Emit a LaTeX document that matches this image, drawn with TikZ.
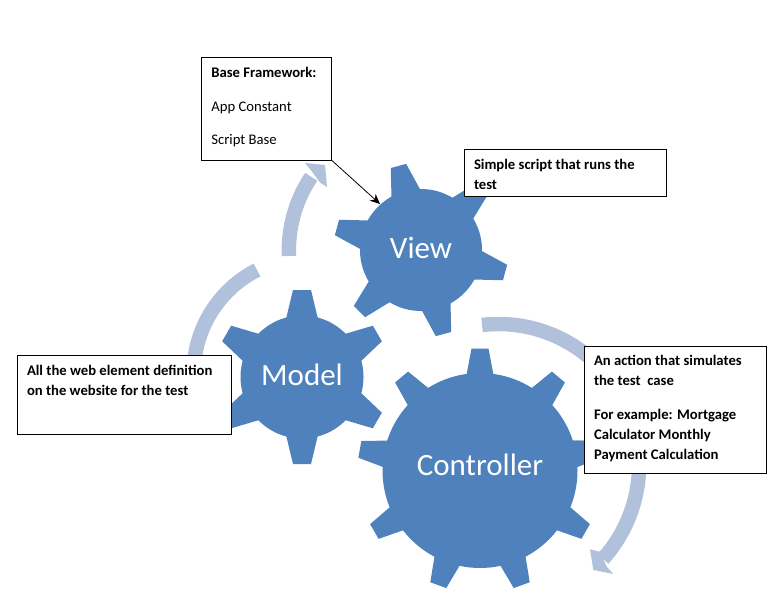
\documentclass[tikz,border=0pt]{standalone}
\usepackage{fontspec}
\usetikzlibrary{arrows.meta}
\setmainfont{Carlito}
\definecolor{gearblue}{HTML}{4F81BD}
\definecolor{arcblue}{HTML}{B2C1DB}
\begin{document}
\begin{tikzpicture}[x=1pt, y=1pt]
\tikzstyle{gear}=[circle, fill=gearblue, inner sep=0pt]
\tikzstyle{gearlabel}=[text=white, inner sep=0pt, font=\fontsize{31}{36}\selectfont]
\tikzstyle{cycle arc}=[draw=arcblue, line width=14.5pt]
\tikzstyle{textbox}=[draw=black, fill=white, line width=1pt, inner sep=0pt, outer sep=0pt, anchor=north west]
\tikzstyle{boxtext}=[inner sep=0pt, anchor=north west, align=left, font=\fontsize{14.67}{20}\selectfont]
\useasboundingbox (0,0) rectangle (775,598);

% arcs behind the gears
\draw[cycle arc] (289,342) arc (182.6:146:131);
\fill[arcblue] (305,435) -- (325,433) -- (327,411) -- (320,415.5) -- (310.7,428) -- cycle;
\draw[cycle arc] (257,328) arc (117:190:116);
\draw[cycle arc] (482,273) arc (96.7:-42:140.7);
\fill[arcblue] (590,48.7) -- (593.3,28) -- (613.3,24) -- (606.7,31.3) -- (600,46.3) -- cycle;

% gears
\node[gear, minimum size=122pt] (view) at (421,348) {};
\node[gear, minimum size=123pt] (model) at (302,221) {};
\node[gear, minimum size=195pt] (controller) at (480,127.5) {};

\foreach \a in {45,105,...,345}
  \fill[gearblue, shift={(view.center)}, rotate=\a] (58,-15) -- (87,-8) -- (87,8) -- (58,15) -- cycle;
\foreach \a in {30,90,...,330}
  \fill[gearblue, shift={(model.center)}, rotate=\a] (58,-16) -- (87,-9) -- (87,9) -- (58,16) -- cycle;
\foreach \a in {10,50,...,370}
  \fill[gearblue, shift={(controller.center)}, rotate=\a] (93,-14) -- (122,-8.5) -- (122,8.5) -- (93,14) -- cycle;

\node[gearlabel] (viewlabel) at ([yshift=2pt]view.center) {View};
\node[gearlabel] (modellabel) at ([yshift=2pt]model.center) {Model};
\node[gearlabel] (controllerlabel) at ([yshift=5.5pt]controller.center) {Controller};

% boxes
\node[textbox, minimum width=130pt, minimum height=103pt] (basebox) at (201.7,540.7) {};
\node[textbox, minimum width=202.5pt, minimum height=47pt] (scriptbox) at (464.3,448.7) {};
\node[textbox, minimum width=182.5pt, minimum height=127pt] (actionbox) at (584.3,251.7) {};
\node[textbox, minimum width=214pt, minimum height=79.3pt] (webbox) at (17.3,243) {};

\node[boxtext] (basetext) at ([xshift=9.5pt, yshift=-6.5pt]basebox.north west) {\strut\textbf{Base Framework:}\\[13.5pt]\strut App Constant\\[13.5pt]\strut Script Base};
\node[boxtext] (scripttext) at ([xshift=9.5pt, yshift=-5.5pt]scriptbox.north west) {\strut\textbf{Simple script that runs the}\\\strut\textbf{test}};
\node[boxtext] (actiontext) at ([xshift=9.5pt, yshift=-5pt]actionbox.north west) {\strut\textbf{An action that simulates}\\\strut\textbf{the test\ \ case}\\[14pt]\strut\textbf{For example: Mortgage}\\\strut\textbf{Calculator Monthly}\\\strut\textbf{Payment Calculation}};
\node[boxtext] (webtext) at ([xshift=9.5pt, yshift=-6.5pt]webbox.north west) {\strut\textbf{All the web element definition}\\\strut\textbf{on the website for the test}};

% pointer from the box to the gear
\coordinate (viewedge) at (380,394);
\draw[-{Stealth[length=10pt, width=9pt]}, line width=0.8pt] (basebox.south east) -- (viewedge);
\end{tikzpicture}
\end{document}
